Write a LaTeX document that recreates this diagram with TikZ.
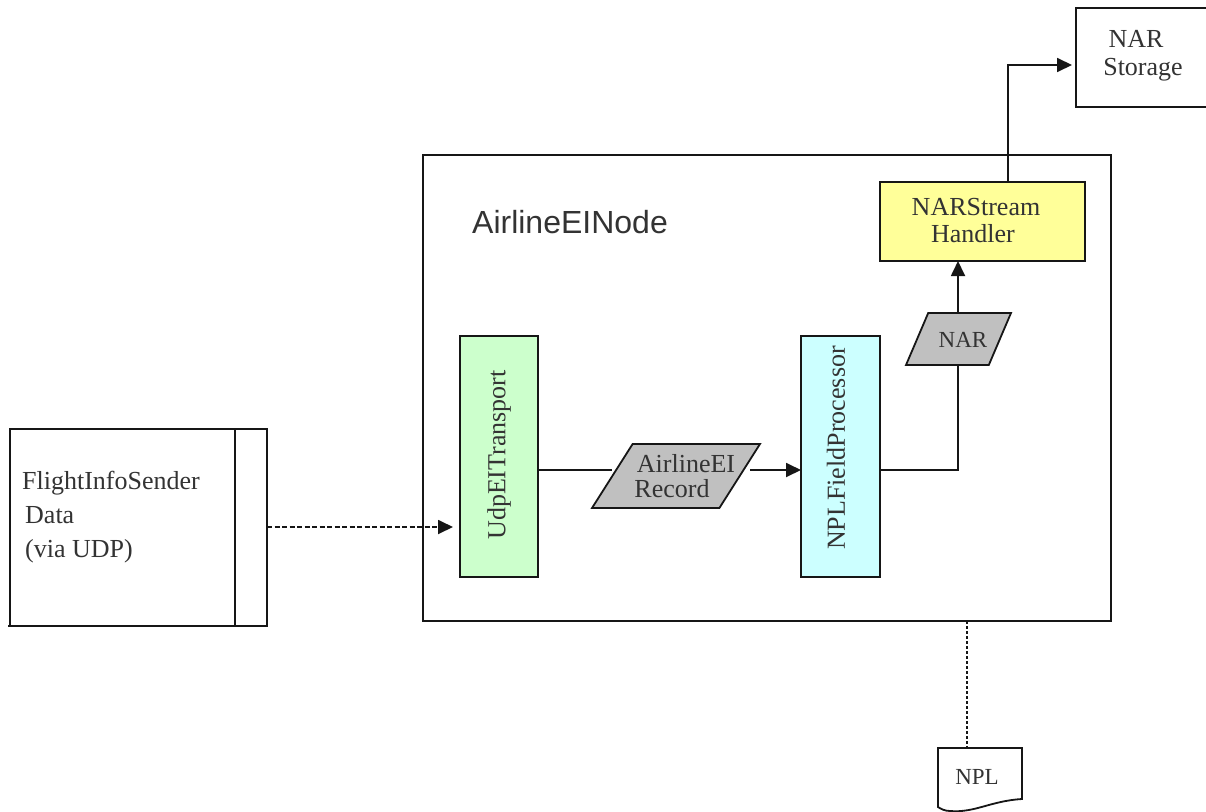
\documentclass[tikz,border=0pt]{standalone}
\usepackage{fontspec}
\setmainfont{Liberation Serif}
\setsansfont{Liberation Sans}
\usetikzlibrary{shapes.geometric,arrows.meta}
\definecolor{ink}{HTML}{161616}
\definecolor{txt}{HTML}{333333}
\definecolor{datagrey}{HTML}{C0C0C0}
\definecolor{handlerfill}{HTML}{FFFF99}
\definecolor{udpfill}{HTML}{CCFFCC}
\definecolor{fpfill}{HTML}{CCFFFF}
\tikzset{
  line/.style={draw=ink,line width=1.8pt},
  flow/.style={line,-{Triangle[length=15pt,width=14pt]}},
  dashflow/.style={flow,dash pattern=on 5pt off 2.5pt},
  dotline/.style={line,line width=2.2pt,dash pattern=on 2.5pt off 2.5pt},
  box/.style={line,rectangle,inner sep=0pt,outer sep=0pt},
  label/.style={text=txt,inner sep=0pt,font=\fontsize{26}{30}\selectfont},
  baselabel/.style={label,anchor=base},
  smalllabel/.style={baselabel,font=\fontsize{23}{27}\selectfont},
  slant/.style={line,fill=datagrey,trapezium,inner sep=0pt,outer sep=0pt,trapezium stretches=true},
}
\begin{document}
\begin{tikzpicture}[x=1pt,y=-1pt]
\useasboundingbox (0,0) rectangle (1206,811);
% outer boxes
\node[box,minimum width=688pt,minimum height=466pt] (main) at (767,388) {};
\node[box,minimum width=140pt,minimum height=99pt] (storage) at (1146,57.5) {};
\node[box,minimum width=257pt,minimum height=197pt] (sender) at (138.5,527.5) {};
\draw[line] (sender.north west -| 235,0) coordinate (divt) -- (divt |- sender.south) coordinate (divb);
\draw[line] (sender.south west) -- ++(-2.5,0) coordinate (tail);
% process boxes
\node[box,fill=handlerfill,minimum width=205pt,minimum height=79pt] (handler) at (982.5,221.5) {};
\node[box,fill=udpfill,minimum width=78pt,minimum height=241pt] (udp) at (499,456.5) {};
\node[box,fill=fpfill,minimum width=79pt,minimum height=241pt] (fp) at (840.5,456.5) {};
% data shapes
\node[slant,trapezium left angle=62.7,trapezium right angle=117.3,minimum width=168pt,minimum height=64pt] (rec) at (676,476) {\phantom{X}};
\node[slant,trapezium left angle=68,trapezium right angle=112,minimum width=105pt,minimum height=52pt] (nar) at (958.5,339) {\phantom{X}};
% document
\node[inner sep=0pt,outer sep=0pt,minimum width=84pt,minimum height=63pt] (npl) at (980,779.5) {};
\draw[line] (npl.north west) -- (npl.north east) -- ++(0,51) coordinate (docr)
  .. controls (990,801) and (975,813) .. (950,811) coordinate (docb)
  .. controls (945,811) and (941,809) .. (938,807) -- cycle;
% connector helpers
\coordinate (recin) at (612,470);
\coordinate (recout) at (750,470);
\coordinate (senderout) at (267,527);
\coordinate (udpin) at (453,527);
\coordinate (elbow) at (958,470);
\coordinate (up) at (1008,65);
\coordinate (storein) at (1072,65);
% connectors
\draw[line] (udp.east |- recin) -- (recin);
\draw[flow] (recout) -- (fp.west |- recout);
\draw[line] (fp.east |- elbow) -- (elbow) -- (elbow |- nar.south);
\draw[flow] (elbow |- nar.north) -- (elbow |- handler.south);
\draw[flow] (up |- handler.north) -- (up) -- (storein);
\draw[dashflow] (senderout) -- (udpin);
\draw[dotline] (967,621) coordinate (dota) -- (dota |- npl.north);
% texts
\node[baselabel] (t1) at (1136,47.5) {NAR};
\node[baselabel] (t2) at (1143,75) {Storage};
\node[inner sep=0pt,text=txt,font=\sffamily\fontsize{32}{36}\selectfont] (t3) at (570,222) {AirlineEINode};
\node[baselabel] (t4) at (976,215) {NARStream};
\node[baselabel] (t5) at (973,242) {Handler};
\node[smalllabel] (t6) at (963,347) {NAR};
\node[label,rotate=90] (t7) at (499,455) {UdpEITransport};
\node[label,rotate=90] (t8) at (836,448) {NPLFieldProcessor};
\node[baselabel] (t9) at (686,472) {AirlineEI};
\node[baselabel] (t10) at (672,497) {Record};
\node[label,anchor=base west] (t11) at (22,489) {FlightInfoSender};
\node[label,anchor=base west] (t12) at (25,523) {Data};
\node[label,anchor=base west] (t13) at (25,557) {(via UDP)};
\node[smalllabel] (t14) at (977,784) {NPL};
\end{tikzpicture}
\end{document}
